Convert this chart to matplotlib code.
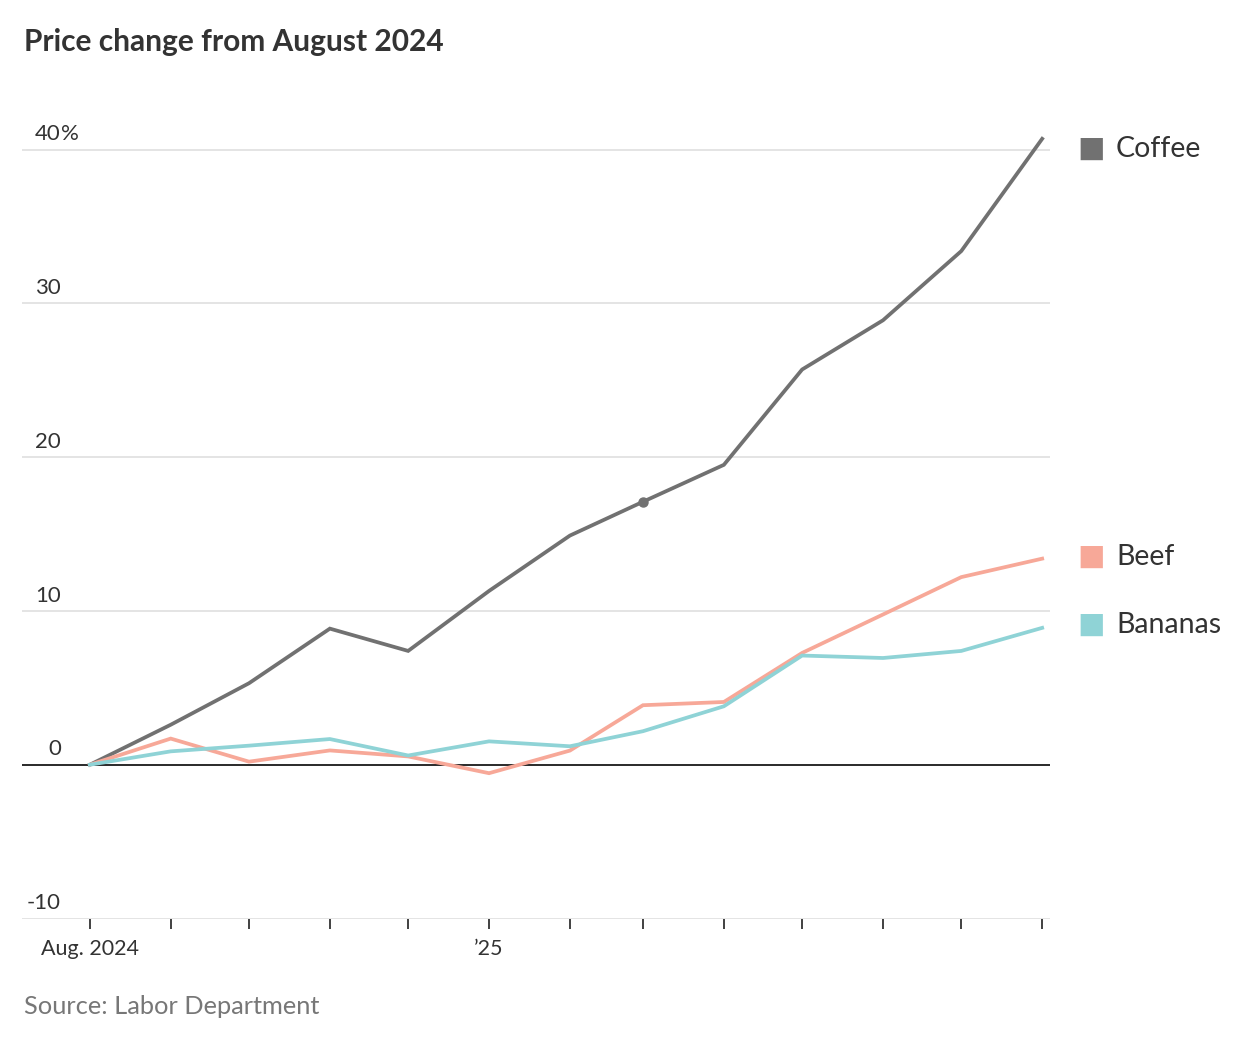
import numpy as np
import pandas as pd
import matplotlib
matplotlib.use('Agg')
import matplotlib.pyplot as plt
import matplotlib.dates as mdates
from matplotlib.transforms import blended_transform_factory

# monthly price change (%) from August 2024
MONTHS = pd.date_range('2024-08-01', '2025-08-01', freq='MS')
COFFEE = [0, 2.6, 5.3, 8.85, 7.4, 11.3, 14.9, 17.1, 19.5, 25.7, 28.9, 33.4, 40.7]
BEEF = [0, 1.7, 0.2, 0.93, 0.54, -0.55, 0.92, 3.87, 4.08, 7.27, 9.77, 12.2, 13.4]
BANANAS = [0, 0.87, 1.24, 1.67, 0.6, 1.52, 1.2, 2.18, 3.8, 7.1, 6.94, 7.4, 8.9]
SERIES = [('Coffee', COFFEE, '#717171'), ('Beef', BEEF, '#f7a898'), ('Bananas', BANANAS, '#8fd3d6')]
LABEL_NUDGE = {'Coffee': -0.65, 'Beef': 0.1, 'Bananas': 0.2}
Y_TICKS = [-10, 0, 10, 20, 30, 40]

FONT = 'Lato'
TEXT = '#333333'

fig = plt.figure(figsize=(12.5, 10.42), dpi=100)
ax = fig.add_axes([0.0176, 0.1185, 0.8224, 0.797])

for name, values, color in SERIES:
    ax.plot(MONTHS, values, color=color, lw=2.7, solid_joinstyle='miter', zorder=3)
ax.plot(MONTHS[7], COFFEE[7], 'o', color='#717171', ms=6.5, zorder=4)

ax.set_ylim(-10, 44)
ax.set_xlim(pd.Timestamp('2024-07-06'), pd.Timestamp('2025-08-04'))

for y in Y_TICKS:
    if y == 0:
        ax.axhline(0, color='#2a2a2a', lw=1.4, zorder=2)
    else:
        ax.axhline(y, color='#e2e2e2', lw=1.3, zorder=1)

for s in ax.spines.values():
    s.set_visible(False)
ax.set_yticks([])

ax.set_xticks(MONTHS)
labels = ['' for _ in MONTHS]
labels[0] = 'Aug. 2024'
labels[5] = '\u201925'
ax.set_xticklabels(labels, fontfamily=FONT, fontsize=15.5, color=TEXT)
ax.tick_params(axis='x', length=7, width=1.3, color='#333333', pad=8)

trans = blended_transform_factory(ax.transAxes, ax.transData)
x_lab = (61 - 22) / (1050 - 22)
for y in Y_TICKS:
    ax.text(x_lab, y + 0.35, str(y), transform=trans, ha='right', va='bottom',
            fontfamily=FONT, fontsize=16, color=TEXT)
ax.text(x_lab, 40 + 0.35, '%', transform=trans, ha='left', va='bottom',
        fontfamily=FONT, fontsize=16, color=TEXT)

# labels at right end
trans_r = blended_transform_factory(fig.transFigure, ax.transData)
for name, values, color in SERIES:
    y = values[-1] + LABEL_NUDGE[name]
    ax.text(1077 / 1250, y, '\u25A0', transform=trans_r, ha='left', va='center',
            fontfamily='DejaVu Sans', fontsize=21, color=color, clip_on=False)
    ax.text(1116 / 1250, y, name, transform=trans_r, ha='left', va='center',
            fontfamily=FONT, fontsize=20.5, color=TEXT, clip_on=False)

fig.text(24 / 1250, 1 - 42 / 1042, 'Price change from August 2024', ha='left', va='center',
         fontfamily=FONT, fontweight='bold', fontsize=21.5, color=TEXT)
fig.text(24 / 1250, 1 - 1006 / 1042, 'Source: Labor Department', ha='left', va='center',
         fontfamily=FONT, fontsize=18.3, color='#777777')

fig.savefig('out.png', dpi=100)
